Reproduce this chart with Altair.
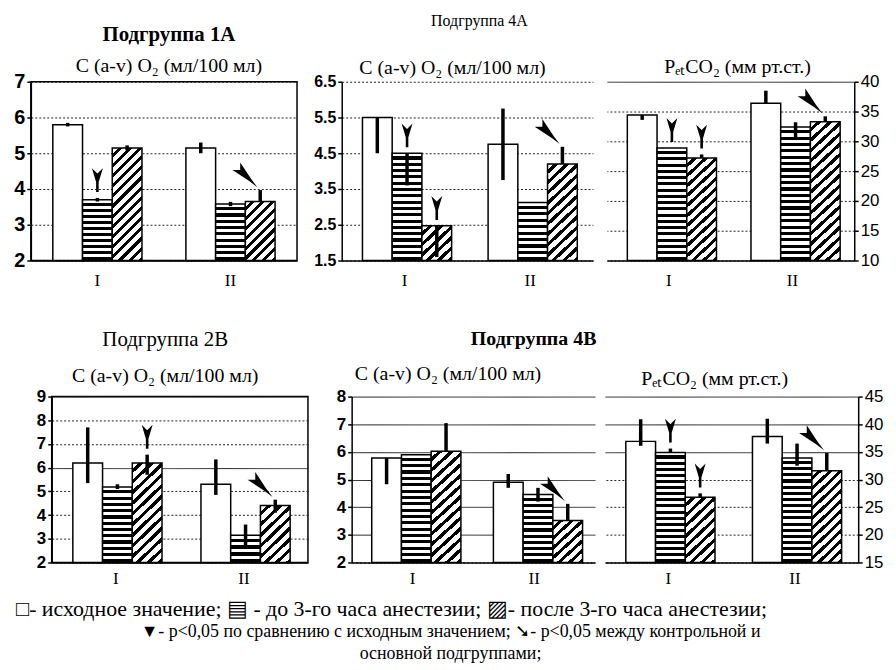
import altair as alt
import pandas as pd

SERIF = "Liberation Serif"
SANS = "Liberation Sans"

GROUPS = ["I", "II"]
SERIES = ["исходное значение", "до 3-го часа анестезии", "после 3-го часа анестезии"]

# order of values: I-исходное, I-до 3 ч, I-после 3 ч, II-исходное, II-до 3 ч, II-после 3 ч
# Подгруппа 1А, C(a-v)O2
P1_MEAN = [5.8, 3.7, 5.15, 5.15, 3.58, 3.65]
P1_LO = [5.75, 3.65, 5.08, 5.0, 3.52, 3.65]
P1_HI = [5.85, 3.75, 5.22, 5.3, 3.64, 3.97]
P1_SIG = ["", "v", "", "", "", "d"]
P1_TICKS = [2, 3, 4, 5, 6, 7]

# Подгруппа 4А, C(a-v)O2
P2_MEAN = [5.5, 4.5, 2.47, 4.75, 3.12, 4.2]
P2_LO = [4.5, 3.6, 1.6, 3.75, 3.12, 4.2]
P2_HI = [5.5, 4.5, 2.47, 5.75, 3.12, 4.68]
P2_SIG = ["", "v", "v", "", "", "d"]
P2_TICKS = [1.5, 2.5, 3.5, 4.5, 5.5, 6.5]

# Подгруппа 4А, PetCO2
P3_MEAN = [34.4, 28.9, 27.2, 36.4, 32.4, 33.3]
P3_LO = [33.6, 28.9, 27.2, 36.4, 30.5, 33.3]
P3_HI = [34.4, 28.9, 27.8, 38.5, 33.2, 34.2]
P3_SIG = ["", "v", "v", "", "", "d"]
P3_TICKS = [10, 15, 20, 25, 30, 35, 40]

# Подгруппа 2В, C(a-v)O2
P4_MEAN = [6.2, 5.18, 6.2, 5.3, 3.15, 4.4]
P4_LO = [5.35, 5.1, 5.7, 4.85, 2.6, 4.1]
P4_HI = [7.7, 5.3, 6.55, 6.35, 3.6, 4.65]
P4_SIG = ["", "", "v", "", "", "d"]
P4_TICKS = [2, 3, 4, 5, 6, 7, 8, 9]

# Подгруппа 4В, C(a-v)O2
P5_MEAN = [5.78, 5.9, 6.02, 4.9, 4.46, 3.52]
P5_LO = [4.83, 5.9, 6.02, 4.7, 4.2, 3.52]
P5_HI = [5.78, 5.9, 7.04, 5.2, 4.7, 4.12]
P5_SIG = ["", "", "", "", "", "d"]
P5_TICKS = [2, 3, 4, 5, 6, 7, 8]

# Подгруппа 4В, PetCO2
P6_MEAN = [36.9, 34.9, 26.8, 37.8, 33.9, 31.6]
P6_LO = [36.1, 34.9, 26.8, 36.5, 32.5, 31.6]
P6_HI = [40.9, 35.6, 27.5, 41.0, 36.5, 34.8]
P6_SIG = ["", "v", "v", "", "", "d"]
P6_TICKS = [15, 20, 25, 30, 35, 40, 45]

T_CAV = "C (a-v) O₂ (мл/100 мл)"
T_PET = "PₑₜCO₂ (мм рт.ст.)"
LEG1 = "□- исходное значение; ▤ - до 3-го часа анестезии; ▨- после 3-го часа анестезии;"
LEG2 = "▼- p<0,05 по сравнению с исходным значением; ➘- p<0,05 между контрольной и"
LEG3 = "основной подгруппами;"

# arrow glyphs, tip near the origin
V_ARROW = "M-0.55,-3.0 L0,-2.45 L0.55,-3.0 L0.13,-1.6 L0.13,-0.6 L-0.13,-0.6 L-0.13,-1.6 Z"
D_ARROW = "M-0.5,-3.1 L0,-2.6 L0.5,-3.1 L0.13,-1.3 L0,-0.35 L-0.13,-1.3 Z"

PAD_INNER = 0.33
PAD_OUTER = 0.165


def stripes_h(n):
    stops = []
    for i in range(n):
        a, m, b = i / n, (i + 0.5) / n, (i + 1) / n
        stops += [{"offset": a, "color": "white"}, {"offset": m, "color": "white"},
                  {"offset": m, "color": "black"}, {"offset": b, "color": "black"}]
    return {"gradient": "linear", "x1": 0, "y1": 0, "x2": 0, "y2": 1, "stops": stops}


def stripes_d(w, h):
    t = (w + h) / (w * w + h * h)
    n = max(1, round((w + h) / 2 ** 0.5 / 7.4))
    stops = []
    for i in range(n):
        a, m, b = i / n, (i + 0.58) / n, (i + 1) / n
        stops += [{"offset": a, "color": "white"}, {"offset": m, "color": "white"},
                  {"offset": m, "color": "black"}, {"offset": b, "color": "black"}]
    return {"gradient": "linear", "x1": 0, "y1": 0, "x2": w * t, "y2": h * t, "stops": stops}


def panel(mean, lo, hi, sig, ticks, W, H, orient="left", lab_size=16, lab_weight="bold",
          fmt="d", solid=(), min_extent=30, title=None, frame=False, xpad=12):
    df = pd.DataFrame({
        "group": [g for g in GROUPS for _ in SERIES],
        "series": SERIES * len(GROUPS),
        "mean": mean, "lo": lo, "hi": hi, "sig": sig,
    })
    ymin, ymax = ticks[0], ticks[-1]
    ysc = alt.Scale(domain=[ymin, ymax], zero=False, nice=False, clamp=True)
    if solid:
        test = "indexof([%s], datum.value) >= 0" % ",".join(str(v) for v in solid)
        dash = {"condition": {"test": test, "value": [1, 0]}, "value": [2, 2]}
    else:
        dash = [2, 2]
    yax = alt.Axis(title=None, orient=orient, values=ticks, format=fmt, labelFont=SANS,
                   labelFontSize=lab_size, labelFontWeight=lab_weight, labelColor="black",
                   labelPadding=2, tickSize=4, tickColor="black", tickWidth=1.5,
                   domainColor="black", domainWidth=1.5, grid=True, gridColor="#222",
                   gridWidth=1, gridDash=dash, minExtent=min_extent, labelFlush=False)
    xax = alt.Axis(title=None, labelAngle=0, ticks=False, labelFont=SERIF, labelFontSize=17,
                   labelColor="black", labelPadding=xpad, domainColor="black", domainWidth=1.5,
                   grid=False)
    xsc = alt.Scale(domain=GROUPS, paddingInner=PAD_INNER, paddingOuter=PAD_OUTER)
    enc = dict(
        x=alt.X("group:N", scale=xsc, axis=xax),
        xOffset=alt.XOffset("series:N", scale=alt.Scale(domain=SERIES, paddingInner=0, paddingOuter=0)),
    )
    base = alt.Chart(df)
    ymean = alt.Y("mean:Q", scale=ysc, axis=yax)
    layers = [
        base.transform_filter(alt.datum.series == SERIES[0])
        .mark_bar(fill="white", stroke="black", strokeWidth=1.5)
        .encode(**enc, y=ymean, y2=alt.Y2Datum(datum=ymin))
    ]
    bw = W * (1 - PAD_INNER) / (2 - PAD_INNER + 2 * PAD_OUTER) / 3
    for gi, g in enumerate(GROUPS):
        for si in (1, 2):
            v = mean[gi * 3 + si]
            h = (v - ymin) / (ymax - ymin) * H
            fill = stripes_h(max(1, round(h / 6.3))) if si == 1 else stripes_d(bw, h)
            layers.append(
                base.transform_filter((alt.datum.group == g) & (alt.datum.series == SERIES[si]))
                .mark_bar(fill=fill, stroke="black", strokeWidth=1.5)
                .encode(**enc, y=ymean, y2=alt.Y2Datum(datum=ymin))
            )
    layers.append(
        base.transform_filter(alt.datum.hi > alt.datum.lo)
        .mark_rule(color="black", strokeWidth=3.5)
        .encode(**enc, y=alt.Y("lo:Q", scale=ysc, axis=yax), y2=alt.Y2("hi"))
    )
    for code, shape, ang, size in (("v", V_ARROW, 0, 400), ("d", D_ARROW, 315, 480)):
        if code in sig:
            layers.append(
                base.transform_filter(alt.datum.sig == code)
                .mark_point(shape=shape, size=size, angle=ang, filled=True, color="black",
                            opacity=1, strokeWidth=0)
                .encode(**enc, y=alt.Y("hi:Q", scale=ysc, axis=yax))
            )
    props = dict(width=W, height=H)
    if title is not None:
        props["title"] = title
    if frame:
        props["view"] = alt.ViewBackground(stroke="black", strokeWidth=1.5)
    return alt.layer(*layers).properties(**props)


def sub_title(text, dx=0, frame="group", offset=6):
    return alt.TitleParams(text=text, font=SERIF, fontSize=20, fontWeight="normal", color="black",
                           anchor="middle", frame=frame, dx=dx, offset=offset)


p1 = panel(P1_MEAN, P1_LO, P1_HI, P1_SIG, P1_TICKS, 268, 180, lab_size=20, min_extent=17, frame=True,
           title=alt.TitleParams(text=["\u00a0", "Подгруппа 1А"], subtitle=T_CAV, font=SERIF,
                                 fontSize=21, fontWeight="bold", lineHeight=13, color="black",
                                 subtitleFont=SERIF, subtitleFontSize=20, subtitleColor="black",
                                 subtitlePadding=11, offset=-4, anchor="middle", frame="group", dx=5))
p2 = panel(P2_MEAN, P2_LO, P2_HI, P2_SIG, P2_TICKS, 253, 180, lab_size=16, fmt=".1f", min_extent=30,
           title=sub_title(T_CAV, frame="bounds", offset=-4))
p3 = panel(P3_MEAN, P3_LO, P3_HI, P3_SIG, P3_TICKS, 249, 180, orient="right", lab_size=17,
           lab_weight="normal", solid=[40], title=sub_title(T_PET, dx=7, offset=-4))
g4A = alt.hconcat(p2, p3, spacing=14).properties(
    title=alt.TitleParams(text="Подгруппа 4А", font=SERIF, fontSize=16, fontWeight="normal",
                          color="black", anchor="start", frame="group", dx=90, offset=28))
row1 = alt.hconcat(p1, g4A, spacing=14)

# invisible 1-px placeholder: shifts the lower-left panel to the right, as in the original layout
spacer = (alt.Chart(pd.DataFrame({"v": [0]})).mark_point(opacity=0)
          .encode(x=alt.X("v:Q", axis=None), y=alt.Y("v:Q", axis=None))
          .properties(width=1, height=1))

p4 = panel(P4_MEAN, P4_LO, P4_HI, P4_SIG, P4_TICKS, 258, 167, lab_size=17, min_extent=14, frame=True,
           solid=[9, 6], xpad=8,
           title=alt.TitleParams(text=["\u00a0", "Подгруппа 2В"], subtitle=T_CAV,
                                 font=SERIF, fontSize=21, fontWeight="normal", lineHeight=6,
                                 color="black", subtitleFont=SERIF, subtitleFontSize=20,
                                 subtitleColor="black", subtitlePadding=16, offset=2,
                                 anchor="middle", frame="bounds", dx=-7))
p5 = panel(P5_MEAN, P5_LO, P5_HI, P5_SIG, P5_TICKS, 245, 167, lab_size=17, min_extent=29, xpad=8,
           solid=[3, 4, 5, 6, 7, 8], title=sub_title(T_CAV, frame="bounds", dx=-11, offset=4))
p6 = panel(P6_MEAN, P6_LO, P6_HI, P6_SIG, P6_TICKS, 255, 167, orient="right", lab_size=17, xpad=8,
           lab_weight="normal", solid=[35, 40, 45], title=sub_title(T_PET, dx=-17, offset=-1))
g4B = alt.hconcat(p5, p6, spacing=10).properties(
    title=alt.TitleParams(text="Подгруппа 4В", font=SERIF, fontSize=20, fontWeight="bold",
                          color="black", anchor="start", frame="group", dx=120, offset=15))
row2 = alt.hconcat(alt.hconcat(spacer, p4, spacing=0), g4B, spacing=14)

inner = alt.vconcat(row1, row2, spacing=33).properties(
    title=alt.TitleParams(text=LEG1, orient="bottom", anchor="start", frame="group", dx=-15,
                          font=SERIF, fontSize=22, fontWeight="normal", color="black", offset=12))
chart = alt.vconcat(inner).properties(
    title=alt.TitleParams(text=[LEG2, LEG3], orient="bottom", anchor="middle", font=SERIF,
                          fontSize=18, fontWeight="normal", color="black", lineHeight=22, offset=3),
    padding={"left": 5, "top": 0, "right": 0, "bottom": 0},
    background="white",
).configure_view(stroke=None)

chart.save("out.html", embed_options={"renderer": "svg", "actions": False})
